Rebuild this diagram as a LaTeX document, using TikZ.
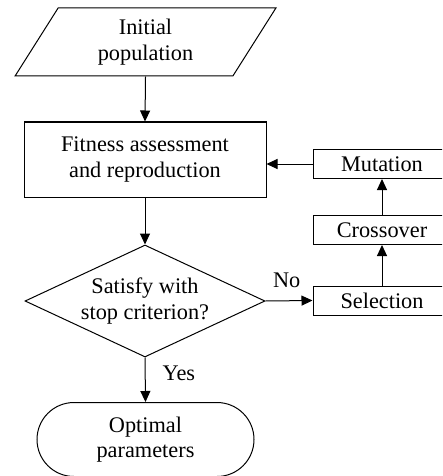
\documentclass[tikz,border=0pt]{standalone}
\usepackage{fontspec}
\setmainfont{Liberation Serif}
\usetikzlibrary{shapes.geometric,shapes.misc,arrows.meta}
\begin{document}
\begin{tikzpicture}[x=1pt,y=-1pt,
  every node/.style={font=\fontsize{22.3}{25.5}\selectfont, align=center, inner sep=0pt},
  shp/.style={draw=black, line width=1.0pt},
  sidebox/.style={shp, rectangle, minimum width=138pt, minimum height=29pt},
  arr/.style={line width=1.0pt, -{Triangle[length=11pt,width=10pt]}}]
\useasboundingbox (0,0) rectangle (442,476);
\clip (0,0) rectangle (442,476);
\node[shp, trapezium, trapezium stretches=true, trapezium left angle=62.8, trapezium right angle=117.2,
  minimum width=261pt, minimum height=68pt] (init) at (145.5,42) {Initial\\population};
\node[shp, rectangle, minimum width=242pt, minimum height=75pt] (fit) at (145,159.5) {Fitness assessment\\and reproduction};
\node[shp, diamond, aspect=2.14, minimum width=240pt, minimum height=112pt] (dec) at (145,301) {Satisfy with\\stop criterion?};
\node[shp, rounded rectangle, minimum width=217pt, minimum height=74pt] (opt) at (145.5,439.5) {Optimal\\parameters};
\node[sidebox] (sel) at (382,300.5) {Selection};
\node[sidebox] (cro) at (382,230) {Crossover};
\node[sidebox] (mut) at (382,164) {Mutation};
\draw[arr] (init.south) -- (fit.north);
\draw[arr] (fit.south) -- (dec.north);
\draw[arr] (dec.south) -- node[right=17pt, pos=0.35] {Yes} (opt.north);
\draw[arr] (dec.east) -- node[above=13pt, pos=0.45] {No} (sel.west);
\draw[arr] (sel.north) -- (cro.south);
\draw[arr] (cro.north) -- (mut.south);
\draw[arr] (mut.west) -- (mut.west -| fit.east);
\end{tikzpicture}
\end{document}
